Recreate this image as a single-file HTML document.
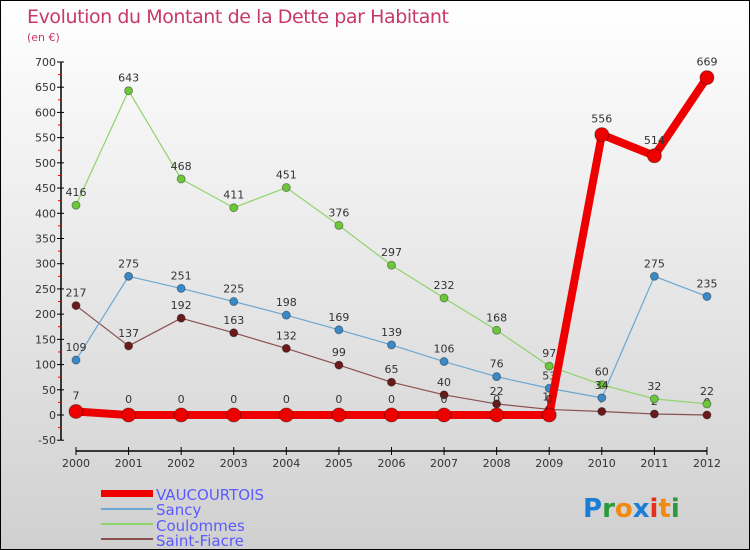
<!DOCTYPE html>
<html><head><meta charset="utf-8"><style>
body{margin:0}
#c{width:750px;height:550px;position:relative;box-sizing:border-box;border:1px solid #000;background:linear-gradient(#fff,#d0d0d0);overflow:hidden;font-family:"DejaVu Sans","Liberation Sans",sans-serif}
svg text{font-family:"DejaVu Sans","Liberation Sans",sans-serif}
</style></head><body>
<div id="c">
<svg id="s" width="750" height="550">
<text x="26" y="22" font-size="19" fill="#c8386a" textLength="422">Evolution du Montant de la Dette par Habitant</text>
<text x="26" y="40" font-size="11" fill="#c8386a">(en €)</text>
<g id="axes"></g><g id="series"></g>
<g>
<rect x="100" y="489" width="52" height="7" fill="#e00"/>
<rect x="100" y="507" width="52" height="2" fill="#6aa7d2"/>
<rect x="100" y="522" width="52" height="2" fill="#8fd46a"/>
<rect x="100" y="537" width="52" height="2" fill="#8a5050"/>
<text x="155" y="499" font-size="15" fill="#5a5aff">VAUCOURTOIS</text>
<text x="155" y="514" font-size="15" fill="#5a5aff">Sancy</text>
<text x="155" y="530" font-size="15" fill="#5a5aff">Coulommes</text>
<text x="155" y="545" font-size="15" fill="#5a5aff">Saint-Fiacre</text>
</g>
<g font-size="26" font-weight="bold">
<text x="582" y="516"><tspan fill="#1a7fd4">P</tspan><tspan fill="#2a9a3a">r</tspan><tspan fill="#f08a10">o</tspan><tspan fill="#1a7fd4">x</tspan><tspan fill="#e53020">i</tspan><tspan fill="#f08a10">t</tspan><tspan fill="#2a9a3a">i</tspan></text>
</g>
</svg></div>
<script>
const years=[2000,2001,2002,2003,2004,2005,2006,2007,2008,2009,2010,2011,2012];
const vaucourtois=[7,0,0,0,0,0,0,0,0,0,556,514,669];
const sancy=[109,275,251,225,198,169,139,106,76,53,34,275,235];
const coulommes=[416,643,468,411,451,376,297,232,168,97,60,32,22];
const saintFiacre=[217,137,192,163,132,99,65,40,22,11,7,2,0];
const yTicks=[-50,0,50,100,150,200,250,300,350,400,450,500,550,600,650,700];
const NS="http://www.w3.org/2000/svg";
const X=i=>75+i*52.58, Y=v=>414-v*0.5043;
function mk(t,a,p){const e=document.createElementNS(NS,t);for(const k in a)e.setAttribute(k,a[k]);p.appendChild(e);return e;}
const ax=document.getElementById('axes');
let l=mk('line',{x1:60,y1:Y(700),x2:60,y2:Y(-50),stroke:'#000','stroke-width':1.5},ax);


yTicks.forEach(v=>{
 const t=mk('line',{x1:56,x2:63,y1:Y(v),y2:Y(v),stroke:'#000'},ax);
 
 
 if(v<700){const m=mk('line',{x1:57,x2:60,y1:Y(v+25),y2:Y(v+25),stroke:'#e00'},ax);
 
 }
 const tx=mk('text',{x:55,y:Y(v)+4,'font-size':11,fill:'#333','text-anchor':'end'},ax);tx.textContent=v;
 
 
});
l=mk('line',{x1:X(0),x2:X(12),y1:450,y2:450,stroke:'#000','stroke-width':1.5},ax);


years.forEach((y,i)=>{
 const t=mk('line',{x1:X(i),x2:X(i),y1:446,y2:454,stroke:'#000'},ax);
 
 
 const tx=mk('text',{x:X(i),y:466,'font-size':11,fill:'#333','text-anchor':'middle'},ax);tx.textContent=y;
 
 
});
const sg=document.getElementById('series');
function series(name,data,color,w,r,dot){
 const g=mk('g',{},sg);
 
 
 const p=mk('polyline',{points:data.map((v,i)=>X(i)+','+Y(v)).join(' '),fill:'none',stroke:color,'stroke-width':w,'stroke-linejoin':'round'},g);
 
 
 data.forEach((v,i)=>{
  const c=mk('circle',{cx:X(i),cy:Y(v),r:r,fill:dot,stroke:'rgba(0,0,0,0.35)','stroke-width':1},g);
  
  
  const t=mk('text',{x:X(i),y:Y(v)-r-5,'font-size':11,fill:'#333','text-anchor':'middle'},g);t.textContent=v;
  
  
 });
}
series('saint-fiacre',saintFiacre,'#8a5050',1.2,4,'#6a1a1a');
series('coulommes',coulommes,'#8fd46a',1.2,4,'#6cc83a');
series('sancy',sancy,'#6aa7d2',1.2,4,'#3a8ac8');
series('vaucourtois',vaucourtois,'#ee0000',8,7,'#ee0000');
</script>
</body></html>
